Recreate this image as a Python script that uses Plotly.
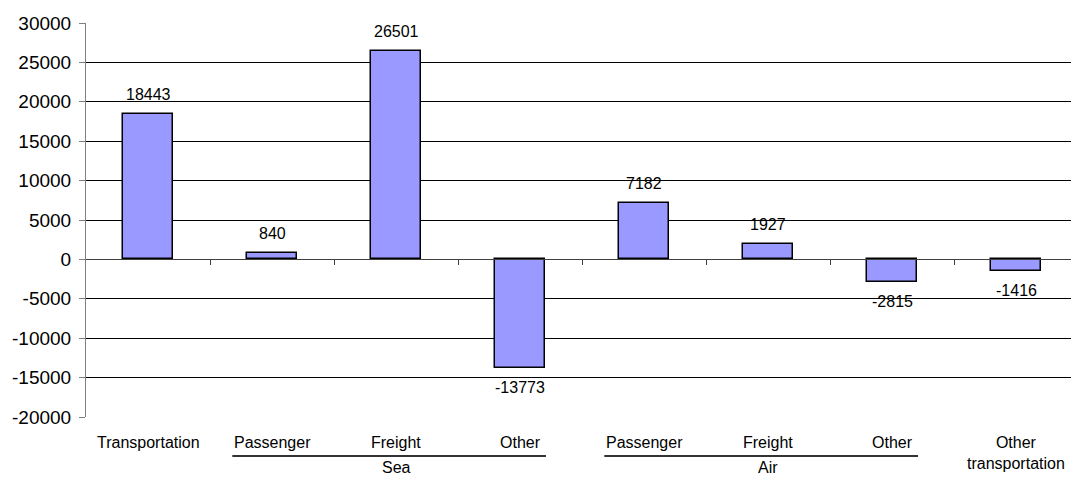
import plotly.graph_objects as go

# Transportation balance by category (values in the chart's units)
categories = ["Transportation", "Passenger", "Freight", "Other",
              "Passenger", "Freight", "Other", "Other<br>transportation"]
values = [18443, 840, 26501, -13773, 7182, 1927, -2815, -1416]

# Second-level grouping: (label, first index, last index)
groups = [("Sea", 1, 3), ("Air", 4, 6)]

y_ticks = [-20000, -15000, -10000, -5000, 0, 5000, 10000, 15000, 20000, 25000, 30000]
y_tick_text = [str(t) for t in y_ticks]  # plain hyphen for negatives
y_range = [-20000, 30000]

FONT = "Liberation Sans, Arial, sans-serif"
BAR_FILL = "#9999FF"

# Plot area geometry (pixels) used to place the x axis and labels
W, H = 1071, 479
M_L, M_T, M_B = 86, 23, 62
CAT_PX = 124  # horizontal spacing of categories
x_lo = -0.5
x_hi = x_lo + (W - M_L) / CAT_PX

xs = list(range(len(categories)))

fig = go.Figure()
fig.add_trace(go.Bar(
    x=xs, y=values, width=0.41,
    marker=dict(color=BAR_FILL, line=dict(color="#000000", width=1.5)),
    hoverinfo="skip", showlegend=False,
))

annotations = []
# value labels above positive bars and below negative bars
for i, v in enumerate(values):
    annotations.append(dict(
        x=i, y=v, xref="x", yref="y", text=str(v), showarrow=False,
        yanchor="bottom" if v >= 0 else "top",
        yshift=9 if v >= 0 else -9,
        font=dict(family=FONT, size=16, color="#000000"),
    ))

# first-level category labels
for i, c in enumerate(categories):
    annotations.append(dict(
        x=i, y=0, xref="x", yref="paper", text=c, showarrow=False,
        yanchor="top", yshift=-15, align="center",
        font=dict(family=FONT, size=16, color="#000000"),
    ))

# group labels with an underline spanning their member labels
shapes = []
def to_paper(xv):
    return (xv - x_lo) / (x_hi - x_lo)

plot_h = H - M_T - M_B
line_y = -(456 - (H - M_B)) / plot_h
for name, a, b in groups:
    annotations.append(dict(
        x=(a + b) / 2, y=0, xref="x", yref="paper", text=name, showarrow=False,
        yanchor="bottom", yshift=-(H - 1 - (H - M_B)),
        font=dict(family=FONT, size=16, color="#000000"),
    ))
    shapes.append(dict(
        type="line", xref="paper", yref="paper",
        x0=to_paper(a - 0.32), x1=to_paper(b + 0.21), y0=line_y, y1=line_y,
        line=dict(color="#333333", width=2),
    ))

zero_pos = (0 - y_range[0]) / (y_range[1] - y_range[0])

fig.update_layout(
    width=W, height=H,
    margin=dict(l=M_L, r=0, t=M_T, b=M_B, pad=0),
    paper_bgcolor="#FFFFFF", plot_bgcolor="#FFFFFF",
    font=dict(family=FONT, color="#000000"),
    bargap=0,
    xaxis=dict(
        range=[x_lo, x_hi], anchor="free", position=zero_pos,
        showline=True, linecolor="#404040", linewidth=1,
        tickmode="array", tickvals=[i + 0.5 for i in xs[:-1]],
        ticks="outside", ticklen=5, tickcolor="#404040", tickwidth=1,
        showticklabels=False, showgrid=False, zeroline=False,
    ),
    yaxis=dict(
        range=y_range, tickmode="array", tickvals=y_ticks, ticktext=y_tick_text,
        ticks="outside", ticklen=6, tickcolor="#808080",
        ticklabelstandoff=4,
        showline=True, linecolor="#808080", linewidth=1,
        showgrid=True, gridcolor="#000000", gridwidth=1,
        zeroline=False,
        tickfont=dict(family=FONT, size=19, color="#000000"),
    ),
    annotations=annotations,
    shapes=shapes,
)

fig.write_html("out.html")
